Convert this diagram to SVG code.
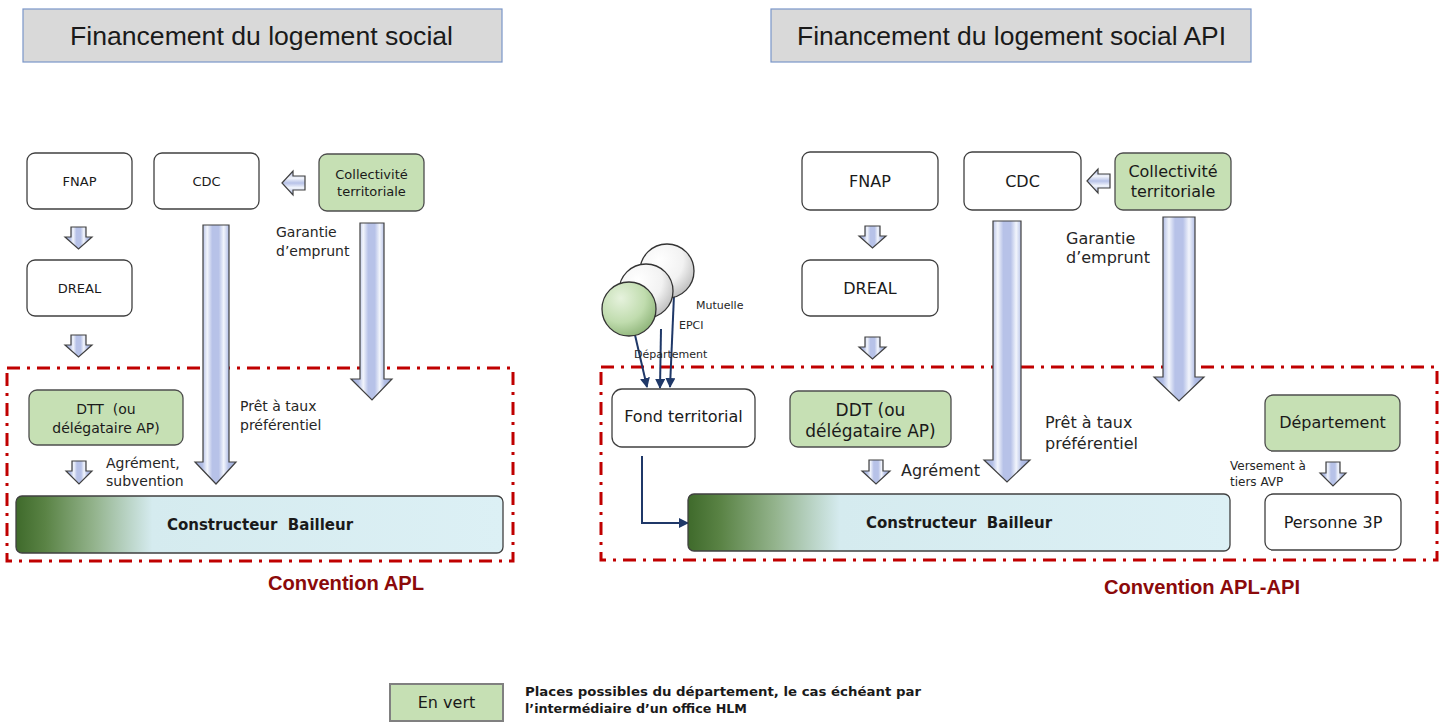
<svg xmlns="http://www.w3.org/2000/svg" width="1445" height="723" viewBox="0 0 1445 723">
<defs>
<linearGradient id="blk" x1="0" y1="0" x2="1" y2="0">
<stop offset="0" stop-color="#9fadd9"/>
<stop offset="0.18" stop-color="#b3bfe6"/>
<stop offset="0.3" stop-color="#f2f5fc"/>
<stop offset="0.42" stop-color="#b7c2e8"/>
<stop offset="0.58" stop-color="#b7c2e8"/>
<stop offset="0.7" stop-color="#f2f5fc"/>
<stop offset="0.82" stop-color="#b3bfe6"/>
<stop offset="1" stop-color="#9fadd9"/>
</linearGradient>
<linearGradient id="blkh" x1="0" y1="0" x2="0" y2="1">
<stop offset="0" stop-color="#9fadd9"/>
<stop offset="0.3" stop-color="#f2f5fc"/>
<stop offset="0.5" stop-color="#b7c2e8"/>
<stop offset="0.7" stop-color="#f2f5fc"/>
<stop offset="1" stop-color="#9fadd9"/>
</linearGradient>
<linearGradient id="bar" x1="0" y1="0" x2="1" y2="0">
<stop offset="0" stop-color="#3f6a2b"/>
<stop offset="0.06" stop-color="#5a8345"/>
<stop offset="0.16" stop-color="#93b38c"/>
<stop offset="0.28" stop-color="#d5ebef"/>
<stop offset="1" stop-color="#dcf0f5"/>
</linearGradient>
<radialGradient id="ballW" cx="0.35" cy="0.3" r="0.75">
<stop offset="0" stop-color="#ffffff"/>
<stop offset="0.6" stop-color="#f2f2f2"/>
<stop offset="1" stop-color="#bfbfbf"/>
</radialGradient>
<radialGradient id="ballG" cx="0.35" cy="0.3" r="0.75">
<stop offset="0" stop-color="#e6f2dd"/>
<stop offset="0.6" stop-color="#c0dcae"/>
<stop offset="1" stop-color="#8fb57a"/>
</radialGradient>
<marker id="ah" viewBox="0 0 10 10" refX="9" refY="5" markerWidth="5" markerHeight="5" orient="auto">
<path d="M0,0 L10,5 L0,10 z" fill="#1f3868"/>
</marker>
<style>
.title{fill:#d9d9d9;stroke:#7a96c8;stroke-width:1.2}
.tt{font-family:"Liberation Sans",Arial,sans-serif;font-size:26px;fill:#1a1a1a}
.box{fill:#ffffff;stroke:#404040;stroke-width:1.3}
.gbox{fill:#c6e0b4;stroke:#4d4d4d;stroke-width:1.3}
.t{font-family:"DejaVu Sans",Verdana,sans-serif;fill:#1a1a1a;text-anchor:middle}
.l{font-family:"DejaVu Sans",Verdana,sans-serif;fill:#262626}
.b{font-family:"DejaVu Sans",Verdana,sans-serif;font-weight:bold;fill:#1a1a1a}
.arr{fill:url(#blk);stroke:#404040;stroke-width:1.2;stroke-linejoin:miter}
.arrh{fill:url(#blkh);stroke:#404040;stroke-width:1.2}
.red{fill:none;stroke:#c00000;stroke-width:3;stroke-dasharray:13 7 3 7}
.conv{font-family:"Liberation Sans",Arial,sans-serif;font-weight:bold;fill:#8b0a0a;font-size:20px}
.conn{fill:none;stroke:#1f3868;stroke-width:2}
.bar{fill:url(#bar);stroke:#404040;stroke-width:1.3}
</style>
</defs>

<!-- Titles -->
<g id="title-left"><rect class="title" x="23" y="9" width="479" height="53"/><text class="tt" x="70" y="45" textLength="383" lengthAdjust="spacingAndGlyphs">Financement du logement social</text></g>
<g id="title-right"><rect class="title" x="771" y="9" width="480" height="53"/><text class="tt" x="797" y="45" textLength="429" lengthAdjust="spacingAndGlyphs">Financement du logement social API</text></g>

<!-- Red conventions -->
<g id="conv-left"><rect class="red" x="7" y="368" width="506" height="193"/><text class="conv" x="268" y="590" textLength="156" lengthAdjust="spacingAndGlyphs">Convention APL</text></g>
<g id="conv-right"><rect class="red" x="601" y="367" width="836" height="193"/><text class="conv" x="1104" y="594" textLength="196" lengthAdjust="spacingAndGlyphs">Convention APL-API</text></g>

<!-- Connectors -->
<g id="connectors">
<!-- left panel -->
<path class="arrh" d="M282,183 L293,171 L293,176 L305,176 L305,190 L293,190 L293,195 Z"/>
<path class="arr" d="M71,227 L86,227 L86,237 L92,237 L78.5,249 L65,237 L71,237 Z"/>
<path class="arr" d="M71,335 L86,335 L86,345 L92,345 L78.5,357 L65,345 L71,345 Z"/>
<path class="arr" d="M72,461 L86,461 L86,471 L92,471 L79,484 L66,471 L72,471 Z"/>
<path class="arr" d="M203,225 L229,225 L229,462 L236,462 L216,484 L195,462 L203,462 Z"/>
<path class="arr" d="M360,223 L384,223 L384,379 L392,379 L372,400 L351,379 L360,379 Z"/>
<!-- right panel -->
<path class="arrh" d="M1087,181 L1098,169 L1098,174 L1110,174 L1110,188 L1098,188 L1098,193 Z"/>
<path class="arr" d="M865,226 L880,226 L880,236 L886,236 L872.5,248 L859,236 L865,236 Z"/>
<path class="arr" d="M865,337 L880,337 L880,347 L886,347 L872.5,359 L859,347 L865,347 Z"/>
<path class="arr" d="M869,460 L883,460 L883,471 L890,471 L876,484 L862,471 L869,471 Z"/>
<path class="arr" d="M1326,462 L1340,462 L1340,473 L1346,473 L1333,486 L1320,473 L1326,473 Z"/>
<path class="arr" d="M993,221 L1021,221 L1021,460 L1030,460 L1007,482 L984,460 L993,460 Z"/>
<path class="arr" d="M1163,217 L1195,217 L1195,377 L1204,377 L1179,401 L1154,377 L1163,377 Z"/>
<!-- balloons to fond -->
<line class="conn" x1="635" y1="335" x2="647" y2="387" marker-end="url(#ah)"/>
<line class="conn" x1="661" y1="329" x2="660" y2="388" marker-end="url(#ah)"/>
<line class="conn" x1="674" y1="295" x2="670" y2="387" marker-end="url(#ah)"/>
<path class="conn" d="M642,456 L642,523 L688,523" marker-end="url(#ah)"/>
</g>

<!-- Labels -->
<g id="labels">
<text class="l" font-size="14" x="276" y="237">Garantie</text>
<text class="l" font-size="14" x="276" y="256">d’emprunt</text>
<text class="l" font-size="14" x="240" y="411">Prêt à taux</text>
<text class="l" font-size="14" x="240" y="430">préférentiel</text>
<text class="l" font-size="14" x="106" y="468">Agrément,</text>
<text class="l" font-size="14" x="106" y="486">subvention</text>
<text class="l" font-size="16" x="1066" y="244">Garantie</text>
<text class="l" font-size="16" x="1066" y="263">d’emprunt</text>
<text class="l" font-size="16" x="1045" y="428">Prêt à taux</text>
<text class="l" font-size="16" x="1045" y="449">préférentiel</text>
<text class="l" font-size="16" x="901" y="476">Agrément</text>
<text class="l" font-size="12" x="1230" y="470">Versement à</text>
<text class="l" font-size="12" x="1230" y="486">tiers AVP</text>
<text class="l" font-size="11" x="696" y="309">Mutuelle</text>
<text class="l" font-size="11" x="679" y="329">EPCI</text>
<text class="l" font-size="11" x="634" y="358">Département</text>
</g>

<!-- Left nodes -->
<g id="fnap-l"><rect class="box" x="27" y="153" width="105" height="56" rx="8"/><text class="t" font-size="13" x="79.5" y="186">FNAP</text></g>
<g id="cdc-l"><rect class="box" x="154" y="153" width="105" height="56" rx="8"/><text class="t" font-size="13" x="206.5" y="186">CDC</text></g>
<g id="coll-l"><rect class="gbox" x="319" y="154" width="105" height="57" rx="8"/><text class="t" font-size="13" x="371.5" y="179">Collectivité</text><text class="t" font-size="13" x="371.5" y="196">territoriale</text></g>
<g id="dreal-l"><rect class="box" x="27" y="260" width="105" height="56" rx="8"/><text class="t" font-size="13" x="79.5" y="293">DREAL</text></g>
<g id="dtt-l"><rect class="gbox" x="29" y="390" width="154" height="55" rx="8"/><text class="t" font-size="14" x="106" y="414" xml:space="preserve">DTT  (ou</text><text class="t" font-size="14" x="106" y="433">délégataire AP)</text></g>
<g id="bailleur-l"><rect class="bar" x="16" y="496" width="487" height="57" rx="6"/><text class="b" font-size="15" x="260" y="530" text-anchor="middle" xml:space="preserve">Constructeur  Bailleur</text></g>

<!-- Right nodes -->
<g id="fnap-r"><rect class="box" x="802" y="152" width="136" height="58" rx="8"/><text class="t" font-size="16" x="870" y="187">FNAP</text></g>
<g id="cdc-r"><rect class="box" x="964" y="152" width="117" height="58" rx="8"/><text class="t" font-size="16" x="1022.5" y="187">CDC</text></g>
<g id="coll-r"><rect class="gbox" x="1115" y="153" width="116" height="57" rx="8"/><text class="t" font-size="16" x="1173" y="177">Collectivité</text><text class="t" font-size="16" x="1173" y="197">territoriale</text></g>
<g id="dreal-r"><rect class="box" x="802" y="260" width="136" height="56" rx="8"/><text class="t" font-size="16" x="870" y="294">DREAL</text></g>
<g id="balloons">
<circle cx="667" cy="271" r="27" fill="url(#ballW)" stroke="#333" stroke-width="1.3"/>
<circle cx="646" cy="291" r="27" fill="url(#ballW)" stroke="#333" stroke-width="1.3"/>
<circle cx="629" cy="309" r="27" fill="url(#ballG)" stroke="#333" stroke-width="1.3"/>
</g>
<g id="fond"><rect class="box" x="612" y="389" width="143" height="58" rx="10"/><text class="t" font-size="16" x="683.5" y="422">Fond territorial</text></g>
<g id="ddt-r"><rect class="gbox" x="790" y="391" width="161" height="56" rx="8"/><text class="t" font-size="17" x="870.5" y="416">DDT (ou</text><text class="t" font-size="17" x="870.5" y="437">délégataire AP)</text></g>
<g id="departement"><rect class="gbox" x="1265" y="395" width="135" height="56" rx="8"/><text class="t" font-size="16" x="1332.5" y="428">Département</text></g>
<g id="personne"><rect class="box" x="1265" y="494" width="136" height="56" rx="8"/><text class="t" font-size="16" x="1333" y="528">Personne 3P</text></g>
<g id="bailleur-r"><rect class="bar" x="688" y="494" width="542" height="57" rx="6"/><text class="b" font-size="15" x="959" y="528" text-anchor="middle" xml:space="preserve">Constructeur  Bailleur</text></g>

<!-- Legend -->
<g id="legend">
<rect x="390" y="684" width="113" height="37" fill="#c6e0b4" stroke="#808080" stroke-width="2"/>
<text class="t" font-size="16" x="446.5" y="708">En vert</text>
<text class="b" font-size="13" x="525" y="696" textLength="396" lengthAdjust="spacingAndGlyphs">Places possibles du département, le cas échéant par</text>
<text class="b" font-size="13" x="525" y="713" textLength="222" lengthAdjust="spacingAndGlyphs">l’intermédiaire d’un office HLM</text>
</g>
</svg>
